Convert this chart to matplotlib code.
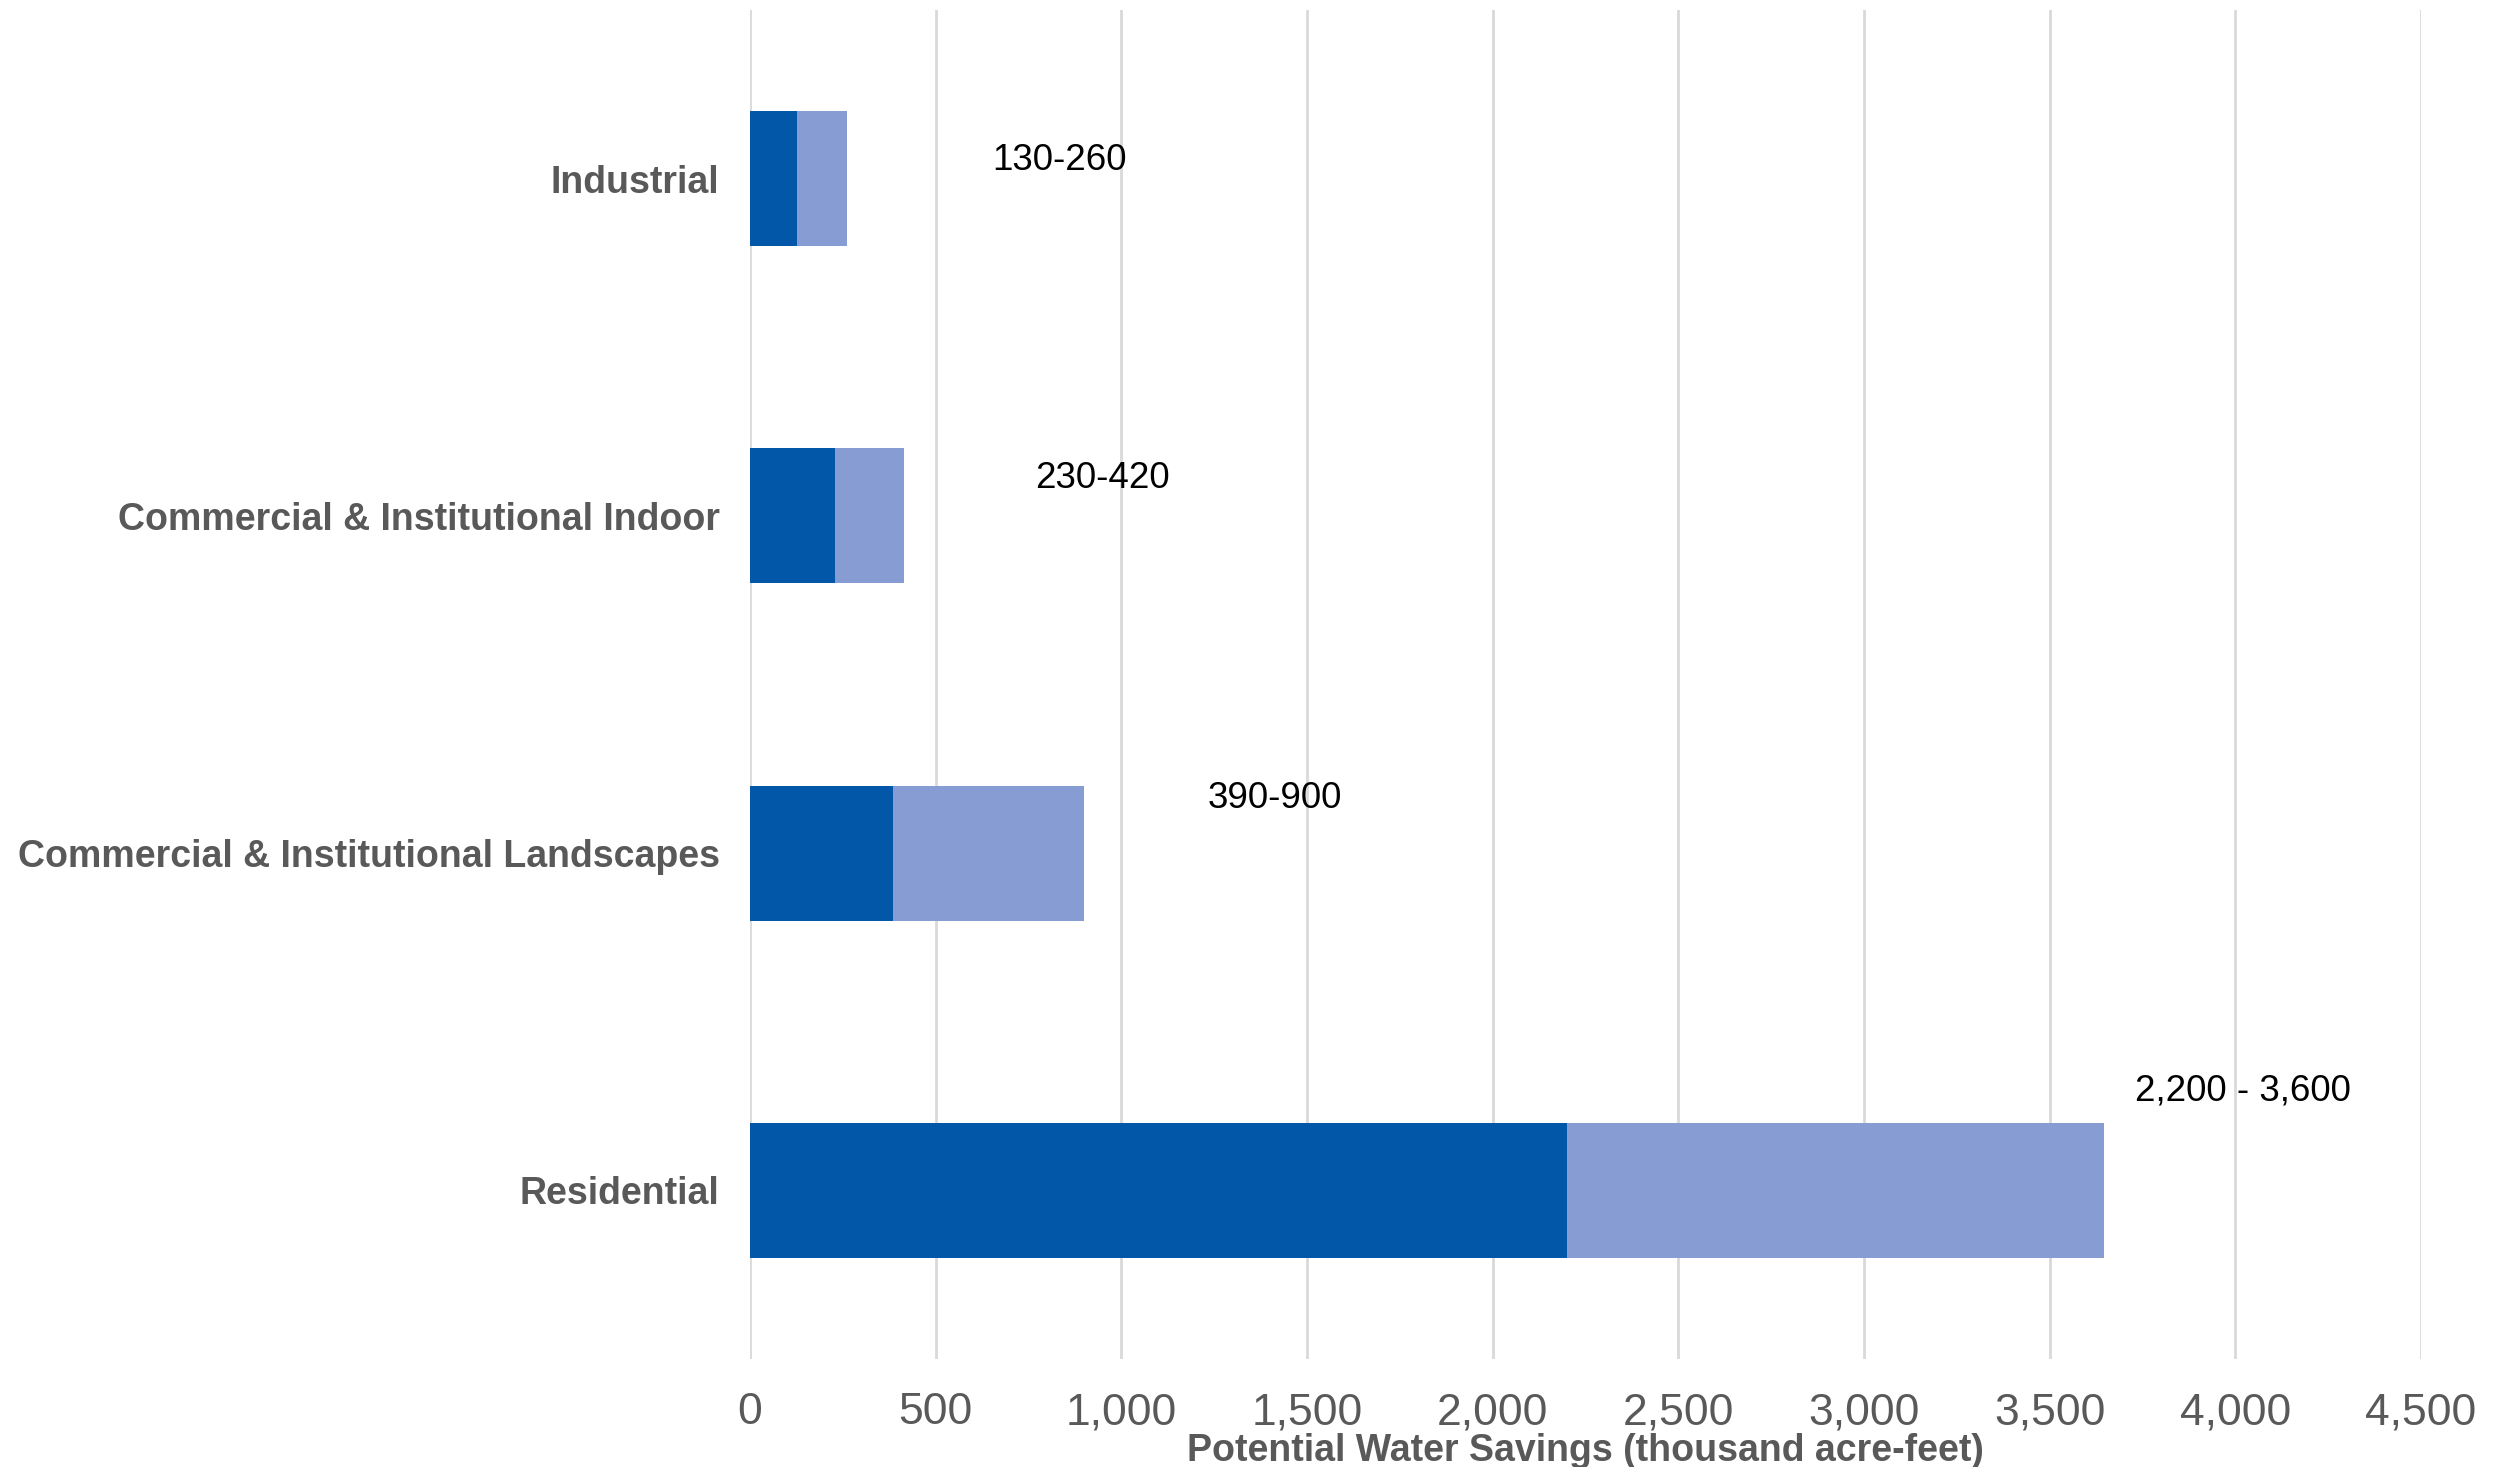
import matplotlib
matplotlib.use("Agg")
import matplotlib.pyplot as plt
from matplotlib.ticker import FuncFormatter

plt.rcParams['font.family'] = ['Liberation Sans', 'DejaVu Sans']

categories = ["Residential", "Commercial & Institutional Landscapes",
              "Commercial & Institutional Indoor", "Industrial"]
low_values = [2200, 385, 230, 125]
high_values = [3645, 900, 415, 262]
range_labels = ["2,200 - 3,600", "390-900", "230-420", "130-260"]
label_x = [4020, 1413, 948, 833]
label_dy = [0.296, 0.163, 0.112, 0.054]
x_ticks = [0, 500, 1000, 1500, 2000, 2500, 3000, 3500, 4000, 4500]

dark = "#0257A8"
light = "#869CD3"
grey = "#595959"

fig = plt.figure(figsize=(25.07, 14.67), dpi=100)
ax = fig.add_axes([0.2992, 0.0736, 0.6665, 0.9196])

ypos = list(range(len(categories)))
extra = [h - l for h, l in zip(high_values, low_values)]
ax.barh(ypos, low_values, height=0.4, color=dark, zorder=3)
ax.barh(ypos, extra, left=low_values, height=0.4, color=light, zorder=3)

for y, lx, dy, txt in zip(ypos, label_x, label_dy, range_labels):
    ax.text(lx, y + dy, txt, ha="center", va="center", fontsize=26.5, color="black")

ax.set_xlim(0, 4500)
ax.set_ylim(-0.5, 3.5)
ax.set_xticks(x_ticks)
ax.xaxis.set_major_formatter(FuncFormatter(lambda v, p: f"{int(v):,}"))
ax.set_yticks(ypos)
ax.set_yticklabels(categories, fontsize=27, fontweight="bold", color=grey)
ax.tick_params(axis="x", labelsize=32, colors=grey, length=0, pad=24)
ax.tick_params(axis="y", length=0, pad=22)
ax.grid(axis="x", color="#D9D9D9", linewidth=2, zorder=0)
for s in ax.spines.values():
    s.set_visible(False)
ax.set_xlabel("Potential Water Savings (thousand acre-feet)", fontsize=27,
              fontweight="bold", color=grey, labelpad=0)

fig.savefig("out.png", dpi=100, facecolor="white")
